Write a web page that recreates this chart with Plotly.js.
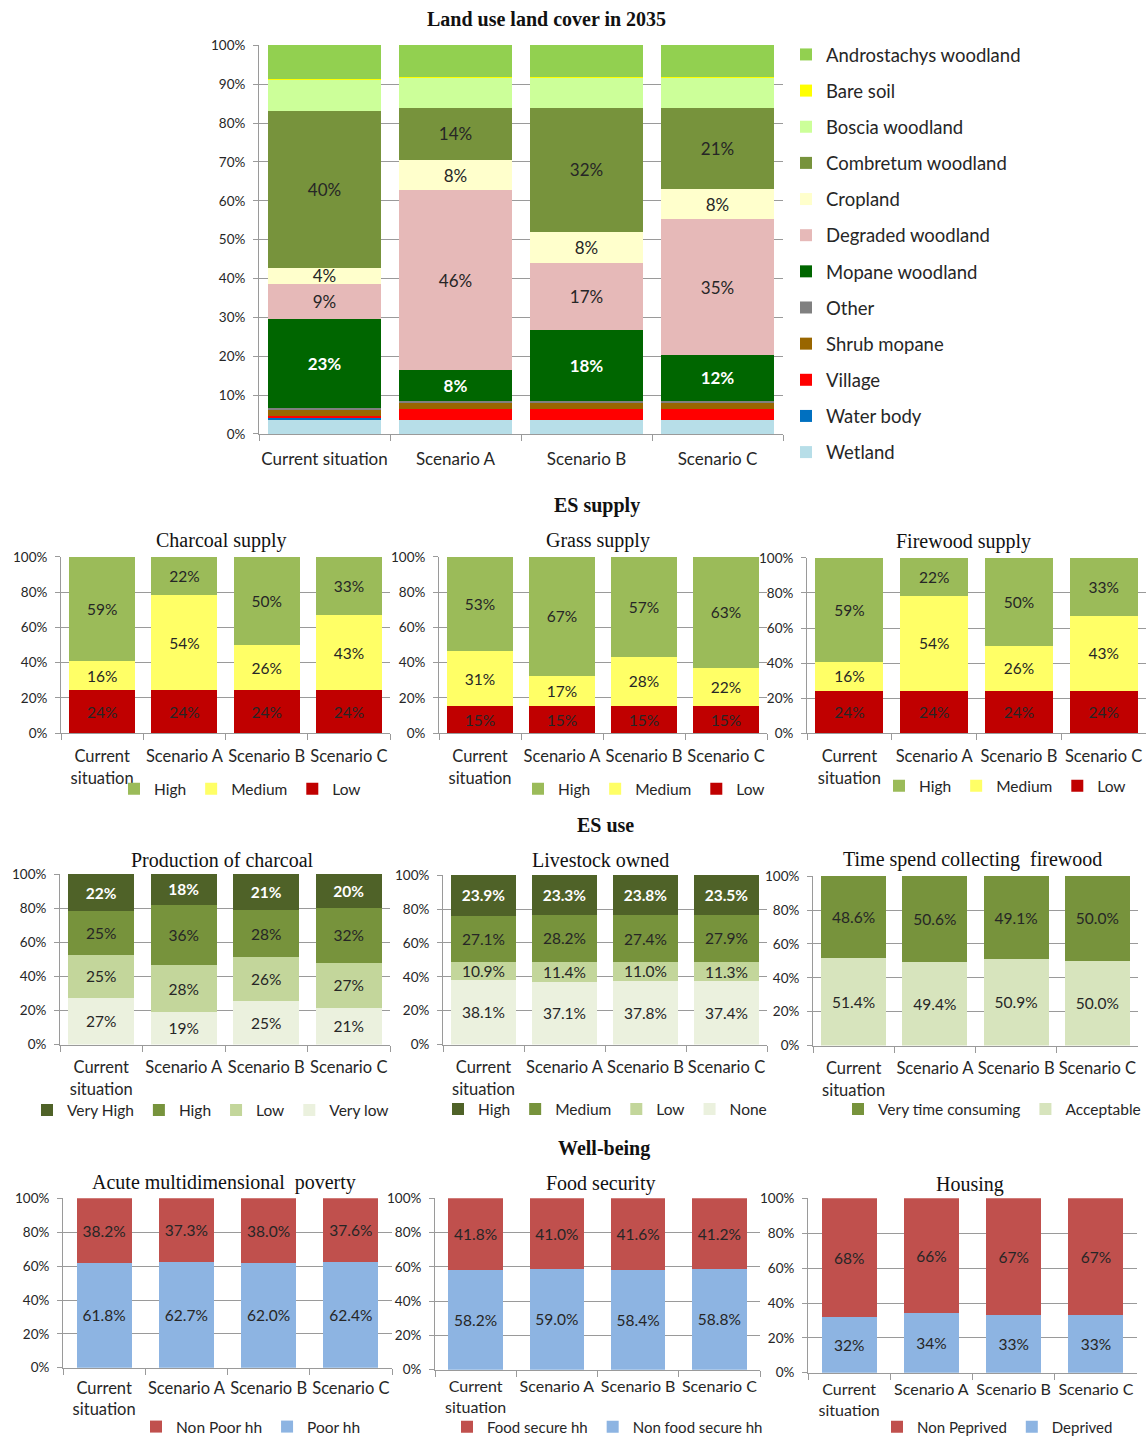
<!DOCTYPE html>
<html><head><meta charset="utf-8">
<script src="https://cdn.plot.ly/plotly-3.0.1.min.js"></script>
<style>html,body{margin:0;padding:0;background:#fff}#chart{width:1146px;height:1444px}</style>
</head><body><div id="chart"></div>
<script>
// ---------- DATA ----------
const scenarios = ['Current<br>situation','Scenario A','Scenario B','Scenario C'];
const scenariosTop = ['Current situation','Scenario A','Scenario B','Scenario C'];

// Land use land cover in 2035 (bottom to top)
const luNames = ['Wetland','Water body','Village','Shrub mopane','Other','Mopane woodland','Degraded woodland','Cropland','Combretum woodland','Boscia woodland','Bare soil','Androstachys woodland'];
const wetland      = [3.7, 3.7, 3.7, 3.7];
const waterBody    = [0.4, 0.0, 0.0, 0.0];
const village      = [0.6, 2.7, 2.7, 2.7];
const shrubMopane  = [1.5, 1.5, 1.5, 1.5];
const otherLU      = [0.5, 0.7, 0.7, 0.7];
const mopane       = [23.0, 7.9, 18.1, 11.7];
const degraded     = [9.0, 46.2, 17.4, 35.0];
const cropland     = [4.0, 7.7, 7.8, 7.7];
const combretum    = [40.3, 13.6, 32.1, 21.0];
const boscia       = [8.0, 7.5, 7.5, 7.5];
const bareSoil     = [0.3, 0.3, 0.3, 0.3];
const androstachys = [8.7, 8.2, 8.2, 8.2];
const luLabelled   = ['Mopane woodland','Degraded woodland','Cropland','Combretum woodland'];

// ES supply (bottom to top: Low, Medium, High)
const supplyNames = ['Low','Medium','High'];
const charcoalLow = [24.3, 24.3, 24.3, 24.3];
const charcoalMed = [16.4, 54.0, 25.7, 42.7];
const charcoalHigh= [59.3, 21.7, 50.0, 33.0];
const grassLow  = [15.4, 15.4, 15.4, 15.4];
const grassMed  = [31.2, 17.3, 28.0, 21.8];
const grassHigh = [53.4, 67.3, 56.6, 62.8];
const firewoodLow  = [24.3, 24.3, 24.3, 24.3];
const firewoodMed  = [16.4, 54.0, 25.7, 42.7];
const firewoodHigh = [59.3, 21.7, 50.0, 33.0];

// ES use
const prodNames = ['Very low','Low','High','Very High'];
const prodVeryLow  = [27.4, 18.9, 25.3, 21.4];
const prodLow      = [25.4, 27.6, 26.0, 26.7];
const prodHigh     = [25.4, 35.6, 27.6, 32.0];
const prodVeryHigh = [21.8, 17.9, 21.1, 19.9];
const liveNames = ['None','Low','Medium','High'];
const liveNone = [38.1, 37.1, 37.8, 37.4];
const liveLow  = [10.9, 11.4, 11.0, 11.3];
const liveMed  = [27.1, 28.2, 27.4, 27.9];
const liveHigh = [23.9, 23.3, 23.8, 23.5];
const timeNames = ['Acceptable','Very time consuming'];
const timeAcceptable = [51.4, 49.4, 50.9, 50.0];
const timeVery       = [48.6, 50.6, 49.1, 50.0];

// Well-being
const povNames = ['Poor hh','Non Poor hh'];
const povPoor    = [61.8, 62.7, 62.0, 62.4];
const povNonPoor = [38.2, 37.3, 38.0, 37.6];
const foodNames = ['Non food secure hh','Food secure hh'];
const foodNonSecure = [58.2, 59.0, 58.4, 58.8];
const foodSecure    = [41.8, 41.0, 41.6, 41.2];
const houseNames = ['Deprived','Non Peprived'];
const houseDeprived    = [32, 34, 33, 33];
const houseNonDeprived = [68, 66, 67, 67];

// ---------- STYLE ----------
const W = 1146, H = 1444;
const SY = 1.006;                 // vertical calibration
const PY = v => Math.min(v * SY, H);
const SANS = 'Lato, "Open Sans", sans-serif';
const SERIF = '"Liberation Serif", "DejaVu Serif", serif';
const GRID = '#9a9a9a';
const DARK = '#262626';

const traces = [];
const layout = {
  width: W, height: H, margin: {l:0, r:0, t:0, b:0},
  paper_bgcolor: '#fff', plot_bgcolor: '#fff',
  barmode: 'stack', showlegend: true, hovermode: false,
  font: {family: SANS, color: DARK},
  annotations: []
};

function addAxes(n, x0, x1, y0, y1, dtick, tickSize, standoff) {
  const xs = n === 1 ? '' : String(n);
  layout['xaxis' + xs] = {
    domain: [x0 / W, Math.min(x1 / W, 1)], type: 'category', anchor: 'y' + xs,
    showline: true, linecolor: GRID, linewidth: 1,
    ticks: 'outside', tickson: 'boundaries', ticklen: 6, tickcolor: GRID,
    tickangle: 0, automargin: false,
    tickfont: {family: SANS, size: tickSize || 16.5, color: DARK},
    ticklabelstandoff: (standoff === undefined ? 8 : standoff),
    showgrid: false, zeroline: false, fixedrange: true
  };
  layout['yaxis' + xs] = {
    domain: [1 - PY(y1) / H, 1 - PY(y0) / H], anchor: 'x' + xs, range: [0, 100.12],
    tickmode: 'linear', tick0: 0, dtick: dtick, ticksuffix: '%',
    showgrid: true, gridcolor: GRID, gridwidth: 1,
    showline: true, linecolor: GRID, linewidth: 1,
    ticks: 'outside', ticklen: 5, tickcolor: GRID,
    tickfont: {family: SANS, size: 13.5, color: DARK}, ticklabelstandoff: 5,
    zeroline: false, fixedrange: true, automargin: false
  };
}

function addStack(n, cats, names, series, colors, textColors, fmt, legendId, width, labelSet, bold) {
  const xs = n === 1 ? '' : String(n);
  names.forEach((nm, i) => {
    const vals = series[i];
    let text;
    if (labelSet && !labelSet.includes(nm)) text = vals.map(() => '');
    else text = vals.map(v => fmt(v));
    traces.push({
      type: 'bar', x: cats, y: vals, name: nm,
      xaxis: 'x' + xs, yaxis: 'y' + xs,
      marker: {color: colors[i], line: {width: 0}},
      width: width,
      text: text, textposition: 'inside', insidetextanchor: 'middle',
      textangle: 0, constraintext: 'none',
      textfont: {family: SANS, size: n === 1 ? 17 : 15.5, color: textColors[i],
                 weight: (bold && bold.includes(nm)) ? 'bold' : 'normal'},
      legend: legendId, legendrank: 1000 - i,
      hoverinfo: 'skip', cliponaxis: false
    });
  });
}

function legendAt(id, rx, cy, opts) {
  layout[id] = Object.assign({
    orientation: 'h', x: rx / W, y: 1 - Math.min(PY(cy), 1439) / H, xanchor: 'right', yanchor: 'middle',
    xref: 'paper', yref: 'paper', traceorder: 'normal',
    font: {family: SANS, size: 15.5, color: DARK}, bgcolor: 'rgba(0,0,0,0)',
    itemwidth: 30, itemclick: false, itemdoubleclick: false, tracegroupgap: 0
  }, opts || {});
}

function title(text, cx, cy, size, bold) {
  layout.annotations.push({
    text: text, x: cx / W, y: 1 - PY(cy) / H, xref: 'paper', yref: 'paper',
    xanchor: 'center', yanchor: 'middle', showarrow: false,
    font: {family: SERIF, size: size, color: '#111', weight: bold ? 'bold' : 'normal'}
  });
}

const r0 = v => Math.round(v) + '%';
const r1 = v => v.toFixed(1) + '%';

// ---------- 1. Land use ----------
addAxes(1, 259, 783, 45, 435, 10, 17, 10);
addStack(1, scenariosTop, luNames,
  [wetland, waterBody, village, shrubMopane, otherLU, mopane, degraded, cropland, combretum, boscia, bareSoil, androstachys],
  ['#B7DEE8','#0070C0','#FF0000','#996600','#808080','#006600','#E6B9B8','#FFFFCC','#77933C','#CCFF99','#FFFF00','#92D050'],
  [DARK,DARK,DARK,DARK,DARK,'#ffffff',DARK,DARK,DARK,DARK,DARK,DARK],
  r0, 'legend', 0.86, luLabelled, ['Mopane woodland']);
// each land-use class its own group so the vertical legend can be spaced out
traces.forEach(t => { t.legendgroup = 'lu_' + t.name; });
layout.legend = {
  orientation: 'v', x: 786 / W, y: 1 - PY(36) / H, xanchor: 'left', yanchor: 'top',
  xref: 'paper', yref: 'paper', traceorder: 'grouped', tracegroupgap: 9.1,
  font: {family: SANS, size: 18.5, color: DARK}, bgcolor: 'rgba(0,0,0,0)',
  itemwidth: 30, itemclick: false, itemdoubleclick: false
};
title('Land use land cover in 2035', 546, 19, 20, true);

// ---------- 2-4. ES supply ----------
const supplyColors = ['#C00000','#FFFF66','#9BBB59'];
const supplyText = [DARK, DARK, DARK];
title('ES supply', 597, 507, 20, true);

addAxes(2, 61, 390, 558, 735, 20);
addStack(2, scenarios, supplyNames, [charcoalLow, charcoalMed, charcoalHigh], supplyColors, supplyText, r0, 'legend2', 0.8);
legendAt('legend2', 366, 791);
title('Charcoal supply', 221, 542, 20);

addAxes(3, 439, 767, 558, 735, 20);
addStack(3, scenarios, supplyNames, [grassLow, grassMed, grassHigh], supplyColors, supplyText, r0, 'legend3', 0.8);
legendAt('legend3', 770, 791);
title('Grass supply', 598, 542, 20);

addAxes(4, 807, 1147, 559, 735, 20);
addStack(4, scenarios, supplyNames, [firewoodLow, firewoodMed, firewoodHigh], supplyColors, supplyText, r0, 'legend4', 0.8);
legendAt('legend4', 1131, 788);
title('Firewood supply', 963, 543, 20);

// ---------- 5-7. ES use ----------
title('ES use', 605, 827, 20, true);
const useColors4 = ['#EBF1DE','#C3D69B','#77933C','#4F6228'];
const useText4 = [DARK, DARK, DARK, '#ffffff'];

addAxes(5, 60, 390, 876, 1047, 20);
addStack(5, scenarios, prodNames, [prodVeryLow, prodLow, prodHigh, prodVeryHigh], useColors4, useText4, r0, 'legend5', 0.8, null, ['Very High']);
legendAt('legend5', 394, 1113);
title('Production of charcoal', 222, 862, 20);

addAxes(6, 443, 767, 877, 1047, 20);
addStack(6, scenarios, liveNames, [liveNone, liveLow, liveMed, liveHigh], useColors4, useText4, r1, 'legend6', 0.8, null, ['High']);
legendAt('legend6', 772, 1112);
title('Livestock owned', 600, 862, 20);

addAxes(7, 813, 1138, 878, 1048, 20);
addStack(7, scenarios, timeNames, [timeAcceptable, timeVery], ['#D7E4BD','#77933C'], [DARK, DARK], r1, 'legend7', 0.8);
legendAt('legend7', 1146, 1112);
title('Time spend collecting  firewood', 972, 862, 20);

// ---------- 8-10. Well-being ----------
title('Well-being', 604, 1151, 20, true);
const wbColors = ['#8DB4E2','#C0504D'];

addAxes(8, 63, 392, 1201, 1371, 20, 16.5, 5);
addStack(8, scenarios, povNames, [povPoor, povNonPoor], wbColors, [DARK, DARK], r1, 'legend8', 0.67);
legendAt('legend8', 366, 1436);
title('Acute multidimensional  poverty', 224, 1185, 20);

addAxes(9, 435, 760, 1201, 1373, 20, 16, 2);
addStack(9, scenarios, foodNames, [foodNonSecure, foodSecure], wbColors, [DARK, DARK], r1, 'legend9', 0.67);
legendAt('legend9', 768, 1440, {font: {family: SANS, size: 15, color: DARK}});
title('Food security', 600, 1186, 20);

addAxes(10, 808, 1137, 1201, 1376, 20, 16, 2);
addStack(10, scenarios, houseNames, [houseDeprived, houseNonDeprived], wbColors, [DARK, DARK], r0, 'legend10', 0.67);
legendAt('legend10', 1118, 1440, {font: {family: SANS, size: 15, color: DARK}});
title('Housing', 970, 1187, 20);

Plotly.newPlot('chart', traces, layout, {staticPlot: true, displayModeBar: false});
</script>
</body></html>
